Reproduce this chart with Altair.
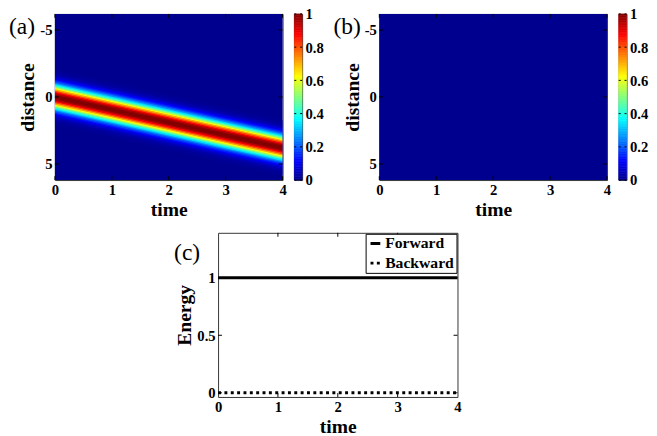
import altair as alt
import pandas as pd

FONT = "Liberation Serif"

# ---------------- data ----------------
# panel (a): forward beam centre (distance) at each time
beam_times = [0, 1, 2, 3, 4]
beam_centers = [0.0, 0.95, 1.9, 2.85, 3.8]
# transverse intensity profile of the beam: offset from centre -> intensity
profile_offsets = [0.0, 0.1, 0.2, 0.3, 0.4, 0.5, 0.6, 0.7, 0.8, 0.9, 1.0,
                   1.1, 1.2, 1.3, 1.4, 1.5, 1.6, 1.7, 1.8, 1.9, 2.0]
profile_values = [1.0, 0.99, 0.95, 0.88, 0.80, 0.71, 0.61, 0.51, 0.41, 0.33, 0.25,
                  0.19, 0.14, 0.10, 0.07, 0.045, 0.03, 0.018, 0.011, 0.007, 0.004]
# background field level (panel a) and backward field (panel b, zero everywhere)
field_floor = 0.0
backward_field = 0.0
time_range = [0, 4]
distance_range = [-6.2, 6.2]

# panel (c): energies
energy_times = [0, 1, 2, 3, 4]
energy_forward = [1, 1, 1, 1, 1]
energy_backward = [0, 0, 0, 0, 0]
energy_range = [-0.036, 1.39]

# ticks
time_ticks = [0, 1, 2, 3, 4]
distance_ticks = [-5, 0, 5]
energy_ticks = [0, 0.5, 1]
colorbar_ticks = [0, 0.2, 0.4, 0.6, 0.8, 1]
colorbar_steps = 100

# jet colormap
jet_stops = [0, 0.11, 0.365, 0.62, 0.873, 1]
jet_colors = ["#00008F", "#0000FF", "#00FFFF", "#FFFF00", "#FF0000", "#800000"]

# ---------------- tables ----------------
band_rows = []
strand = 0
for i in range(-(len(profile_offsets) - 1), len(profile_offsets)):
    off = profile_offsets[abs(i)] * (1 if i >= 0 else -1)
    v = profile_values[abs(i)]
    for t, c in zip(beam_times, beam_centers):
        band_rows.append({"time": t, "distance": c + off, "value": v, "strand": strand})
    strand += 1
band_df = pd.DataFrame(band_rows).sort_values(["value", "strand", "time"])


def bg_df(v):
    return pd.DataFrame({"time": [time_range[0]], "time_end": [time_range[1]],
                         "distance": [distance_range[0]], "distance_end": [distance_range[1]],
                         "value": [v]})


cb_df = pd.DataFrame({
    "level": [k / colorbar_steps for k in range(colorbar_steps)],
    "level_end": [(k + 1) / colorbar_steps for k in range(colorbar_steps)],
})
cb_tick_df = pd.DataFrame({"level": colorbar_ticks})

energy_df = pd.DataFrame({
    "time": energy_times * 2,
    "energy": energy_forward + energy_backward,
    "series": ["Forward"] * len(energy_times) + ["Backward"] * len(energy_times),
})

W, H = 233, 170
CW, CH = 245, 168
num_label = "'' + datum.value"

jet_scale = alt.Scale(domain=jet_stops, range=jet_colors, interpolate="rgb")

x_heat = alt.X("time:Q", scale=alt.Scale(domain=time_range, nice=False, zero=False),
               axis=alt.Axis(values=time_ticks, title="time", labelFlush=False, labelExpr=num_label))
y_heat = alt.Y("distance:Q", scale=alt.Scale(domain=distance_range, nice=False, zero=False, reverse=True),
               axis=alt.Axis(values=distance_ticks, title="distance", labelExpr=num_label))


def tick_layers(xvals, yvals, w, h, xfield, yfield):
    L = 4
    tx = pd.DataFrame({xfield: xvals})
    ty = pd.DataFrame({yfield: yvals})
    return [
        alt.Chart(tx).mark_rule(color="black", strokeWidth=1).encode(
            x=f"{xfield}:Q", y=alt.value(h), y2=alt.value(h - L)),
        alt.Chart(tx).mark_rule(color="black", strokeWidth=1).encode(
            x=f"{xfield}:Q", y=alt.value(0), y2=alt.value(L)),
        alt.Chart(ty).mark_rule(color="black", strokeWidth=1).encode(
            y=f"{yfield}:Q", x=alt.value(0), x2=alt.value(L)),
        alt.Chart(ty).mark_rule(color="black", strokeWidth=1).encode(
            y=f"{yfield}:Q", x=alt.value(w), x2=alt.value(w - L)),
    ]


def panel_label(text, dx, dy):
    return alt.Chart(pd.DataFrame({"label": [text]})).mark_text(
        font=FONT, fontSize=24, fontWeight="normal", align="left",
        baseline="middle", color="black").encode(
        x=alt.value(dx), y=alt.value(dy), text="label:N")


def heat_panel(label, with_band):
    bg = alt.Chart(bg_df(backward_field if not with_band else field_floor)).mark_rect().encode(
        x=x_heat, x2="time_end:Q", y=y_heat, y2="distance_end:Q",
        color=alt.Color("value:Q", scale=jet_scale, legend=None))
    layers = [bg]
    if with_band:
        band = alt.Chart(band_df).mark_line(strokeWidth=2, clip=True).encode(
            x="time:Q", y="distance:Q", color=alt.Color("value:Q", legend=None),
            detail="strand:N", order=alt.Order("time:Q"))
        layers.append(band)
    layers += tick_layers(time_ticks, distance_ticks, W, H, "time", "distance")
    layers.append(panel_label(label, -47, 14))
    return alt.layer(*layers).properties(width=W, height=H)


def colorbar():
    cb_axis = alt.Axis(orient="right", values=colorbar_ticks, title=None,
                       labelExpr=num_label, labelPadding=3, labelFlush=False,
                       labelOverlap=False, labelBound=False)
    cb_scale = alt.Scale(domain=[0, 1], nice=False, zero=False)
    bar = alt.Chart(cb_df).mark_rect(strokeWidth=0.6).encode(
        y=alt.Y("level:Q", scale=cb_scale, axis=cb_axis),
        y2="level_end:Q",
        color=alt.Color("level:Q", scale=jet_scale, legend=None),
        stroke=alt.Stroke("level:Q", scale=jet_scale, legend=None),
    )
    t1 = alt.Chart(cb_tick_df).mark_rule(color="black", strokeWidth=1).encode(
        y=alt.Y("level:Q", scale=cb_scale, axis=cb_axis), x=alt.value(0), x2=alt.value(2))
    t2 = alt.Chart(cb_tick_df).mark_rule(color="black", strokeWidth=1).encode(
        y=alt.Y("level:Q", scale=cb_scale, axis=cb_axis), x=alt.value(6), x2=alt.value(8))
    return alt.layer(bar, t1, t2).properties(width=8, height=H)


panel_a = alt.hconcat(heat_panel("(a)", True), colorbar(), spacing=6)
panel_b = alt.hconcat(heat_panel("(b)", False), colorbar(), spacing=6)
top_row = alt.hconcat(panel_a, panel_b, spacing=8)

lines = alt.Chart(energy_df).mark_line(color="black", strokeWidth=3).encode(
    x=alt.X("time:Q", scale=alt.Scale(domain=time_range, nice=False, zero=False),
            axis=alt.Axis(values=time_ticks, title="time", labelFlush=False, labelExpr=num_label)),
    y=alt.Y("energy:Q", scale=alt.Scale(domain=energy_range, nice=False, zero=False),
            axis=alt.Axis(values=energy_ticks, title="Energy", labelExpr=num_label)),
    strokeDash=alt.StrokeDash(
        "series:N",
        scale=alt.Scale(domain=["Forward", "Backward"], range=[[1, 0], [3, 3.5]]),
        legend=alt.Legend(
            title=None, orient="top-right", offset=1, symbolType="stroke",
            symbolStrokeColor="black", symbolStrokeWidth=3, symbolSize=100,
            labelFont=FONT, labelFontSize=16, labelFontWeight="bold",
            labelColor="black", labelOffset=2, strokeColor="black",
            fillColor="white", padding=2, rowPadding=4,
        ),
    ),
)
c_layers = [lines] + tick_layers([1, 2, 3], energy_ticks, CW, CH, "time", "energy") + [
    panel_label("(c)", -45, 21)]
panel_c = alt.layer(*c_layers).properties(width=CW, height=CH)

spacer = alt.Chart(pd.DataFrame({"s": [0]})).mark_point(opacity=0).properties(
    width=106, height=20, view=alt.ViewBackground(stroke=None))
bottom_row = alt.hconcat(spacer, panel_c, spacing=15).resolve_scale(
    strokeDash="independent").resolve_legend(strokeDash="independent")

chart = alt.vconcat(top_row, bottom_row, spacing=12).resolve_scale(
    strokeDash="independent"
).resolve_legend(
    strokeDash="independent"
).properties(
    padding={"left": 0, "top": -7, "right": 0, "bottom": 0}, background="white"
).configure(font=FONT).configure_view(
    stroke="#333333", strokeWidth=1
).configure_axis(
    labelFont=FONT, labelFontSize=15, labelFontWeight="bold", labelColor="black",
    titleFont=FONT, titleFontSize=20, titleFontWeight="bold", titleColor="black",
    domain=False, ticks=False, grid=False, labelPadding=3, titlePadding=2,
    labelOverlap=False,
)

chart.save("out.html", embed_options={"renderer": "svg", "actions": False})
